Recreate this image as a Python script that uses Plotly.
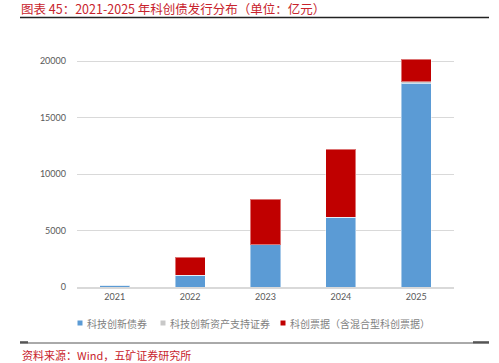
import plotly.graph_objects as go

years = ["2021", "2022", "2023", "2024", "2025"]
series_names = ["科技创新债券", "科技创新资产支持证券", "科创票据（含混合型科创票据）"]
bonds = [160, 1040, 3720, 6170, 18030]
abs_vals = [0, 0, 0, 0, 150]
notes = [0, 1610, 4040, 6010, 1970]
colors = ["#5B9BD5", "#C8C8C8", "#C00000"]
y_ticks = [0, 5000, 10000, 15000, 20000]

W, H = 499, 363
L, R, T, B = 77, 45, 56, 76
pw, ph = W - L - R, H - T - B

def px(x):
    return (x - L) / pw

def py(y):
    return (H - B - y) / ph

fig = go.Figure()
for name, vals, c in zip(series_names, [bonds, abs_vals, notes], colors):
    fig.add_trace(go.Bar(x=years, y=vals, name=name, marker_color=c,
                         marker_line_color="rgba(255,255,255,0.45)", marker_line_width=1,
                         showlegend=False))

cjk = "Noto Sans CJK SC"
fig.update_layout(
    width=W, height=H, barmode="stack", bargap=0.6,
    margin=dict(l=L, r=R, t=T, b=B),
    plot_bgcolor="white", paper_bgcolor="white",
    font=dict(family="Lato, DejaVu Sans", size=9, color="#595959"),
    title=dict(text="图表 45：2021-2025 年科创债发行分布（单位：亿元）",
               xref="container", yref="container", x=21 / W, y=1 - 9.5 / H,
               xanchor="left", yanchor="middle",
               font=dict(family=cjk, size=12.5, color="#C8232C")),
    xaxis=dict(showgrid=False, showline=True, linecolor="#D9D9D9", linewidth=2,
               ticks="", tickfont=dict(size=9, color="#595959")),
    yaxis=dict(range=[0, 20000 * ph / 226], tickvals=y_ticks, tickformat="d", showgrid=True,
               gridcolor="#D9D9D9", gridwidth=1, zeroline=False, ticks="",
               ticklabelstandoff=10, tickfont=dict(size=9, color="#595959")),
)

fig.add_annotation(text="资料来源：Wind，五矿证券研究所", xref="paper", yref="paper",
                   x=px(20), y=py(355), xanchor="left", yanchor="middle", showarrow=False,
                   font=dict(family=cjk, size=11, color="#C8232C"))

# lines
fig.add_shape(type="line", xref="paper", yref="paper", x0=px(20), x1=px(489), y0=py(17.5), y1=py(17.5),
              line=dict(color="#222222", width=1.5))
fig.add_shape(type="line", xref="paper", yref="paper", x0=px(20), x1=px(489), y0=py(343), y1=py(343),
              line=dict(color="#555555", width=1))
for a, b in [(20, 28), (473, 489)]:
    fig.add_shape(type="line", xref="paper", yref="paper", x0=px(a), x1=px(b), y0=py(342.3), y1=py(342.3),
                  line=dict(color="#555555", width=2.2))

# legend (manual)
leg_sq = [80, 163, 283]
for sx, name, c in zip(leg_sq, series_names, colors):
    fig.add_shape(type="rect", xref="paper", yref="paper", x0=px(sx - 2.5), x1=px(sx + 2.5),
                  y0=py(325.5), y1=py(320.5), fillcolor=c, line=dict(width=0))
    fig.add_annotation(text=name, xref="paper", yref="paper", x=px(sx + 5), y=py(323),
                       xanchor="left", yanchor="middle", showarrow=False,
                       font=dict(family=cjk, size=10, color="#7F7F7F"))

fig.write_html("out.html", config={"displayModeBar": False},
               post_script="document.body.style.margin='0';")
